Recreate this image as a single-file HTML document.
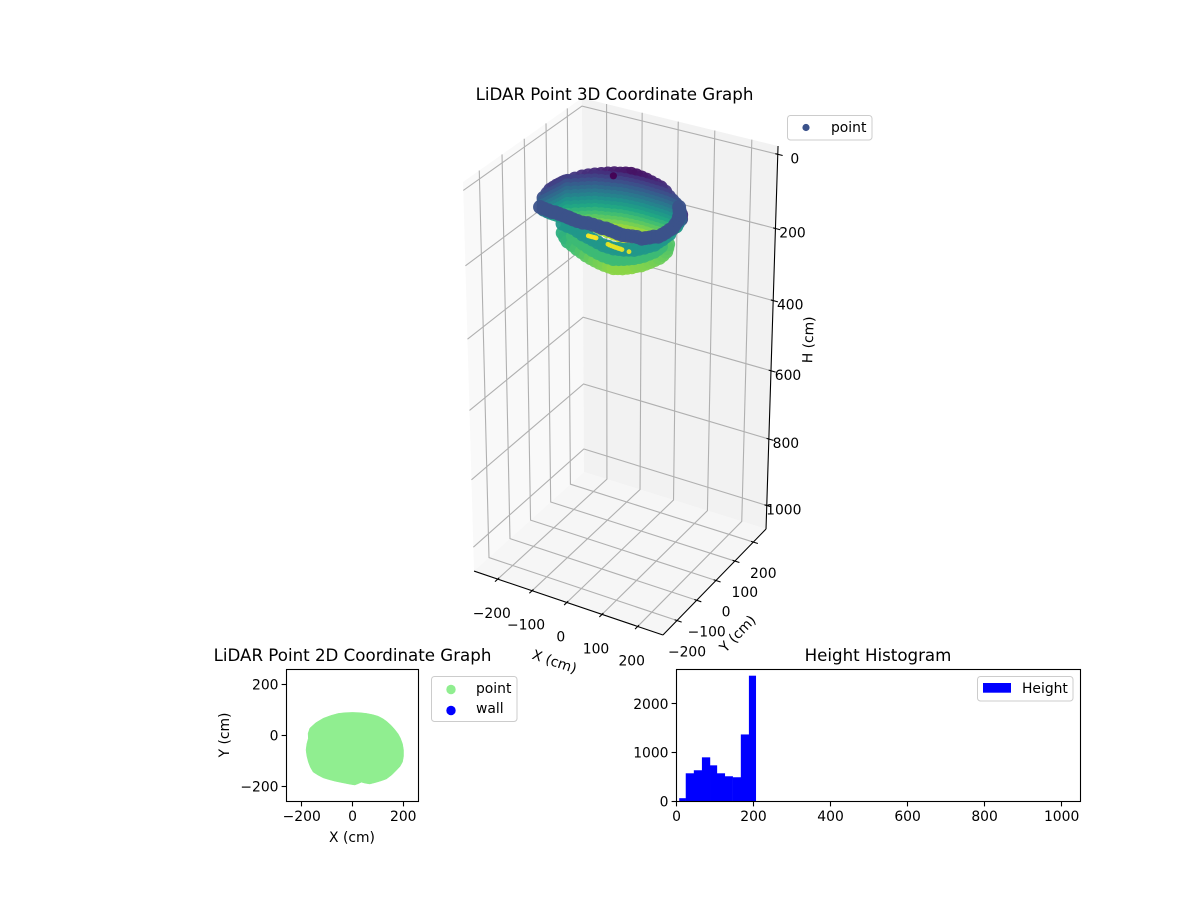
<!DOCTYPE html>
<html>
<head>
<meta charset="utf-8">
<title>LiDAR charts</title>
<style>
html,body{margin:0;padding:0;background:#fff;}
svg{display:block;}
text{font-family:"DejaVu Sans","Liberation Sans",sans-serif;font-size:13.89px;fill:#000;}
.title{font-size:16.67px;text-anchor:middle;}
.mid{text-anchor:middle;}
.end{text-anchor:end;}
</style>
</head>
<body>
<svg id="fig" width="1200" height="900" viewBox="0 0 1200 900" xmlns="http://www.w3.org/2000/svg">
  <rect x="0" y="0" width="1200" height="900" fill="#ffffff"/>

  <g id="plot3d"></g>
  <text class="title" x="614.5" y="100">LiDAR Point 3D Coordinate Graph</text>
  <text class="mid" transform="translate(553,666) rotate(19)">X (cm)</text>
  <text class="mid" transform="translate(741,637) rotate(-46)">Y (cm)</text>
  <text class="mid" transform="translate(813,340) rotate(-88)">H (cm)</text>
  <g>
    <rect x="787.5" y="115.5" width="84.5" height="24.5" rx="3" fill="#fff" fill-opacity="0.8" stroke="#cccccc" stroke-width="1"/>
    <circle cx="806" cy="127.5" r="3.6" fill="#3b528b"/>
    <text x="831" y="132">point</text>
  </g>

  <g id="plot2d"></g>
  <text class="title" x="352.5" y="661">LiDAR Point 2D Coordinate Graph</text>
  <text class="mid" x="352" y="842">X (cm)</text>
  <text class="mid" transform="translate(229,735) rotate(-90)">Y (cm)</text>
  <g>
    <rect x="431.5" y="676.5" width="85.5" height="45" rx="3" fill="#fff" fill-opacity="0.8" stroke="#cccccc" stroke-width="1"/>
    <circle cx="451" cy="689.5" r="4.7" fill="#90ee90"/>
    <text x="476" y="693">point</text>
    <circle cx="451" cy="710.5" r="4.7" fill="#0000ff"/>
    <text x="476" y="713">wall</text>
  </g>

  <g id="plothist"></g>
  <text class="title" x="878" y="661">Height Histogram</text>
  <g>
    <rect x="977.5" y="676.5" width="95.5" height="24.5" rx="3" fill="#fff" fill-opacity="0.8" stroke="#cccccc" stroke-width="1"/>
    <rect x="983" y="683" width="28" height="9.7" fill="#0000ff"/>
    <text x="1022" y="693">Height</text>
  </g>
</svg>

<script>
// ---------- chart data ----------
const ticks3dX = [-200, -100, 0, 100, 200];
const ticks3dY = [-200, -100, 0, 100, 200];
const ticks3dH = [0, 200, 400, 600, 800, 1000];

// back wall of the scan: one column per outline position
const bowlX = [-183,-180,-178,-176,-174,-172,-170,-169,-168,-154,-140,-128,-115,-100,-85,-70,-56,-42,-28,-14,0,14,28,42,55,68,80,91,101,108,115,128,142,153,164];
const bowlY = [-57,-45,-34,-22,-11,0,10,20,29,40,50,59,68,73,78,83,87,89,90,91,91,90,89,88,87,85,82,79,76,66,56,40,23,6,-11];
const bowlTop = [90,83,77,76,75,75,75,76,78,73,68,66,64,61,58,56,55,52,50,51,53,55,58,61,64,71,80,86,91,89,88,84,80,73,66];
const bowlBottom = [122,131,139,147,154,161,168,175,182,189,195,200,204,210,215,220,224,225,226,224,221,216,210,202,193,184,174,164,153,146,139,120,101,89,77];
const bowlLevels = [70,80,90,100,110,120,130,140,150,160,170,180,190,200,210,220];

// lower front wall (outer edge first, upper rows last)
const lowerX = [-126,-112,-98,-84,-70,-56,-42,-29,-17,-5,8,19,30,39,49,57,65,73,82,88,94,100,107,109,110,105,100,
  -106,-86,-66,-47,-29,-11,6,21,35,46,56,65,74,82,89,94,99,100,100,
  -131,-115,-99,-80,-61,-44,-27,-10,8,22,37,49,61,71,82,89,97,103,110,111,113,113,114];
const lowerY = [-65,-77,-89,-91,-94,-96,-99,-99,-99,-99,-99,-96,-94,-89,-84,-76,-68,-61,-54,-43,-32,-21,-11,3,17,31,44,
  -51,-61,-72,-81,-89,-95,-100,-102,-103,-97,-91,-83,-75,-64,-53,-38,-23,-7,9,
  -57,-61,-64,-72,-81,-86,-92,-98,-104,-105,-106,-102,-99,-93,-88,-77,-66,-53,-41,-24,-8,8,24];
const lowerH = [166,169,171,176,181,185,189,193,196,199,201,204,206,206,206,206,206,204,203,202,201,199,196,194,191,189,186,
  176,176,176,176,176,176,176,176,176,176,176,176,176,176,176,176,176,176,176,
  146,146,146,146,146,146,146,146,146,146,146,146,146,146,146,146,146,146,146,146,146,146,146];

// floor returns showing through the gap
const floorX = [-137,-131,-126,-120,-115,-68,-62,-56,-50,-45,-40,-35,-30,-25,-5];
const floorY = [73,73,73,73,73,49,47,46,45,44,44,43,43,42,41];
const floorH = [239,239,239,239,239,233,233,233,233,233,233,233,233,233,233];

// front rim
const rimX = [-166,-154,-141,-128,-121,-109,-96,-83,-78,-66,-53,-38,-27,-12,3,15,24,36,49,61,74,85,96,107,121,127,134,140,149,152,154,155,157,153,149,142,137,127,117];
const rimY = [-101,-104,-106,-109,-107,-109,-111,-113,-114,-117,-119,-120,-116,-117,-118,-121,-118,-121,-123,-126,-128,-125,-122,-119,-121,-114,-107,-98,-93,-79,-65,-49,-38,-19,1,19,32,49,65];
const rimH = [91,91,91,91,91,91,91,91,91,91,91,91,91,91,91,91,91,91,91,91,91,91,91,91,91,91,91,91,91,91,91,91,91,91,91,91,91,91,91];

// single stray ceiling return
const strayX = [-50];
const strayY = [44];
const strayH = [41];

const ticks2dX = [-200, 0, 200];
const ticks2dY = [-200, 0, 200];
const outlineX = [0,28,55,80,101,120,134,152,167,180,189,197,201,201,197,187,173,155,134,115,95,80,68,50,35,22,9,-10,-30,-50,-69,-92,-115,-136,-155,-166,-174,-180,-183,-180,-174,-175,-168,-145,-115,-85,-56,-28];
const outlineY = [91,90,87,82,76,66,56,40,23,6,-11,-33,-57,-82,-104,-122,-137,-155,-171,-178,-184,-188,-191,-188,-184,-190,-195,-192,-188,-184,-180,-174,-167,-156,-144,-125,-104,-80,-57,-33,-11,8,29,50,68,79,87,90];

const histEdges = [7,24,45,66,87,105,125.5,146,167,188,206];
const histCounts = [68,578,640,905,741,578,517,497,1374,2578];
const histTicksX = [0,200,400,600,800,1000];
const histTicksY = [0,1000,2000];

// ---------- helpers ----------
const NS = 'http://www.w3.org/2000/svg';
function mk(parent, tag, props, label) {
  const n = document.createElementNS(NS, tag);
  for (const k in props) n.setAttribute(k, props[k]);
  if (label !== undefined) n.textContent = label;
  parent.appendChild(n);
  return n;
}
function fmt(v) { return v < 0 ? '\u2212' + Math.abs(v) : String(v); }
function snap(v) { return Math.round(v - 0.5) + 0.5; }

// ---------- 3D axes: fit a projective camera to the visible box corners ----------
const xLim = [-270, 270], yLim = [-270, 270], hLim = [-22, 1072];
const boxCube = [[0,0,0],[1,1,0],[0,1,0],[0,0,1],[1,0,1],[1,1,1],[0,1,1]];
const boxPix = [[463,182],[778,146],[582,98],[474,571],[663,635],[766,529],[584,472]];
function solveCamera() {
  const rows = [], rhs = [];
  boxCube.forEach((c, i) => {
    const U = boxPix[i][0] / 1000, V = boxPix[i][1] / 1000;
    rows.push([c[0],c[1],c[2],1,0,0,0,0,-U*c[0],-U*c[1],-U*c[2]]); rhs.push(U);
    rows.push([0,0,0,0,c[0],c[1],c[2],1,-V*c[0],-V*c[1],-V*c[2]]); rhs.push(V);
  });
  const n = 11, M = [];
  for (let i = 0; i < n; i++) {
    M.push(new Array(n + 1).fill(0));
    for (let j = 0; j < n; j++) for (let r = 0; r < rows.length; r++) M[i][j] += rows[r][i] * rows[r][j];
    for (let r = 0; r < rows.length; r++) M[i][n] += rows[r][i] * rhs[r];
  }
  for (let i = 0; i < n; i++) {
    let p = i;
    for (let r = i + 1; r < n; r++) if (Math.abs(M[r][i]) > Math.abs(M[p][i])) p = r;
    const t = M[i]; M[i] = M[p]; M[p] = t;
    for (let r = 0; r < n; r++) {
      if (r === i) continue;
      const f = M[r][i] / M[i][i];
      for (let c = i; c <= n; c++) M[r][c] -= f * M[i][c];
    }
  }
  return M.map((row, i) => row[n] / row[i]);
}
const cam = solveCamera();
function projUnit(u, v, w) {
  const d = cam[8]*u + cam[9]*v + cam[10]*w + 1;
  return [1000*(cam[0]*u + cam[1]*v + cam[2]*w + cam[3]) / d,
          1000*(cam[4]*u + cam[5]*v + cam[6]*w + cam[7]) / d];
}
function uOf(x) { return (x - xLim[0]) / (xLim[1] - xLim[0]); }
function vOf(y) { return (y - yLim[0]) / (yLim[1] - yLim[0]); }
function wOf(h) { return (h - hLim[0]) / (hLim[1] - hLim[0]); }
function proj(x, y, h) { return projUnit(uOf(x), vOf(y), wOf(h)); }
function pts(list) { return list.map(p => p[0].toFixed(2) + ',' + p[1].toFixed(2)).join(' '); }

const viridisStops = ['#440154','#482475','#414487','#355f8d','#2a788e','#21918c','#22a884','#44bf70','#7ad151','#bddf26','#fde725'];
function hex(c) { return [1,3,5].map(i => parseInt(c.substr(i,2),16)); }
function viridis(t) {
  t = Math.max(0, Math.min(1, t)) * 10;
  const i = Math.min(9, Math.floor(t)), f = t - i, a = hex(viridisStops[i]), b = hex(viridisStops[i+1]);
  return 'rgb(' + a.map((v,k) => Math.round(v + (b[k]-v)*f)).join(',') + ')';
}
const colorMin = 41, colorMax = 241;
function colorOf(h) { return viridis((h - colorMin) / (colorMax - colorMin)); }

// ---------- draw 3D ----------
(function () {
  const g = document.getElementById('plot3d');
  let el;
  el = mk(g, 'polygon', {points: pts([[0,0,0],[0,1,0],[0,1,1],[0,0,1]].map(c => projUnit(c[0],c[1],c[2]))), fill:'#f9f9f9'});
  
  
  el = mk(g, 'polygon', {points: pts([[0,1,0],[1,1,0],[1,1,1],[0,1,1]].map(c => projUnit(c[0],c[1],c[2]))), fill:'#f2f2f2'});
  
  
  el = mk(g, 'polygon', {points: pts([[0,0,1],[1,0,1],[1,1,1],[0,1,1]].map(c => projUnit(c[0],c[1],c[2]))), fill:'#f6f6f6'});
  
  

  const gridStyle = {fill:'none', stroke:'#b0b0b0', 'stroke-width':1.1};
  ticks3dX.forEach(t => {
    const u = uOf(t);
    el = mk(g, 'polyline', Object.assign({points: pts([projUnit(u,0,1),projUnit(u,1,1),projUnit(u,1,0)])}, gridStyle));
    
    
  });
  ticks3dY.forEach(t => {
    const v = vOf(t);
    el = mk(g, 'polyline', Object.assign({points: pts([projUnit(1,v,1),projUnit(0,v,1),projUnit(0,v,0)])}, gridStyle));
    
    
  });
  ticks3dH.forEach(t => {
    const w = wOf(t);
    el = mk(g, 'polyline', Object.assign({points: pts([projUnit(0,0,w),projUnit(0,1,w),projUnit(1,1,w)])}, gridStyle));
    
    
  });

  const axisStyle = {fill:'none', stroke:'#000', 'stroke-width':1.1};
  el = mk(g, 'polyline', Object.assign({points: pts([projUnit(0,0,1),projUnit(1,0,1)])}, axisStyle));
  
  
  el = mk(g, 'polyline', Object.assign({points: pts([projUnit(1,0,1),projUnit(1,1,1)])}, axisStyle));
  
  
  el = mk(g, 'polyline', Object.assign({points: pts([projUnit(1,1,1),projUnit(1,1,0)])}, axisStyle));
  
  

  ticks3dX.forEach(t => {
    const u = uOf(t);
    el = mk(g, 'polyline', Object.assign({points: pts([projUnit(u,0.012,1),projUnit(u,-0.024,1)])}, axisStyle));
    
    
    const p = projUnit(u,0,1);
    el = mk(g, 'text', {class:'mid', x:(p[0]-6).toFixed(1), y:(p[1]+39).toFixed(1)}, fmt(t));
    
    
  });
  ticks3dY.forEach(t => {
    const v = vOf(t);
    el = mk(g, 'polyline', Object.assign({points: pts([projUnit(0.988,v,1),projUnit(1.024,v,1)])}, axisStyle));
    
    
    const p = projUnit(1,v,1);
    el = mk(g, 'text', {class:'mid', x:(p[0]+10).toFixed(1), y:(p[1]+36).toFixed(1)}, fmt(t));
    
    
  });
  ticks3dH.forEach(t => {
    const w = wOf(t);
    el = mk(g, 'polyline', Object.assign({points: pts([projUnit(0.988,1,w),projUnit(1.024,1,w)])}, axisStyle));
    
    
    const p = projUnit(1,1,w);
    el = mk(g, 'text', {class:'mid', x:(p[0]+17).toFixed(1), y:(p[1]+9).toFixed(1)}, fmt(t));
    
    
  });

  // scatter
  const cloud = mk(g, 'g', {});
  
  
  function dot(x, y, h, r) {
    const p = proj(x, y, h);
    const c = mk(cloud, 'circle', {cx:p[0].toFixed(2), cy:p[1].toFixed(2), r:r, fill:colorOf(h), 'fill-opacity':0.95});
    
    
  }
  const bowl = [];
  bowlX.forEach((x, i) => {
    bowl.push([x, bowlY[i], bowlTop[i]]);
    bowlLevels.forEach(l => { if (l > bowlTop[i] + 4 && l < bowlBottom[i]) bowl.push([x, bowlY[i], l]); });
    bowl.push([x, bowlY[i], bowlBottom[i]]);
  });
  bowl.sort((a, b) => a[2] - b[2]);
  bowl.forEach(p => dot(p[0], p[1], p[2], 7));
  strayX.forEach((x, i) => dot(x, strayY[i], strayH[i], 3.6));
  lowerX.forEach((x, i) => dot(x, lowerY[i], lowerH[i], 7));
  floorX.forEach((x, i) => dot(x, floorY[i], floorH[i], 2.4));
  rimX.forEach((x, i) => dot(x, rimY[i], rimH[i], 7));
})();

// ---------- draw 2D ----------
(function () {
  const g = document.getElementById('plot2d');
  const L = 286.5, R = 418.5, T = 669.5, B = 801.5;
  const lim = [-260, 260];
  const sx = v => L + (v - lim[0]) / (lim[1] - lim[0]) * (R - L);
  const sy = v => B - (v - lim[0]) / (lim[1] - lim[0]) * (B - T);
  let el;
  el = mk(g, 'polygon', {points: outlineX.map((x, i) => sx(x).toFixed(2) + ',' + sy(outlineY[i]).toFixed(2)).join(' '), fill:'#90ee90', stroke:'#90ee90', 'stroke-width':0.5});
  
  
  el = mk(g, 'rect', {x:L, y:T, width:R-L, height:B-T, fill:'none', stroke:'#000', 'stroke-width':1.1});
  
  
  ticks2dX.forEach(t => {
    el = mk(g, 'line', {x1:snap(sx(t)), x2:snap(sx(t)), y1:B, y2:B+4.9, stroke:'#000', 'stroke-width':1.1});
    
    
    el = mk(g, 'text', {class:'mid', x:sx(t), y:B+19.5}, fmt(t));
    
    
  });
  ticks2dY.forEach(t => {
    el = mk(g, 'line', {x1:L-4.9, x2:L, y1:snap(sy(t)), y2:snap(sy(t)), stroke:'#000', 'stroke-width':1.1});
    
    
    el = mk(g, 'text', {class:'end', x:L-8, y:sy(t)+5}, fmt(t));
    
    
  });
})();

// ---------- draw histogram ----------
(function () {
  const g = document.getElementById('plothist');
  const L = 676.5, R = 1080.5, T = 669.5, B = 801.5;
  const xMax = 1049, yMax = 2705;
  const sx = v => L + v / xMax * (R - L);
  const sy = v => B - v / yMax * (B - T);
  let el;
  histCounts.forEach((c, i) => {
    el = mk(g, 'rect', {x:sx(histEdges[i]).toFixed(2), y:sy(c).toFixed(2), width:(sx(histEdges[i+1])-sx(histEdges[i])+0.2).toFixed(2), height:(B-sy(c)).toFixed(2), fill:'#0000ff'});
    
    
  });
  el = mk(g, 'rect', {x:L, y:T, width:R-L, height:B-T, fill:'none', stroke:'#000', 'stroke-width':1.1});
  
  
  histTicksX.forEach(t => {
    el = mk(g, 'line', {x1:snap(sx(t)), x2:snap(sx(t)), y1:B, y2:B+4.9, stroke:'#000', 'stroke-width':1.1});
    
    
    el = mk(g, 'text', {class:'mid', x:sx(t), y:B+19.5}, fmt(t));
    
    
  });
  histTicksY.forEach(t => {
    el = mk(g, 'line', {x1:L-4.9, x2:L, y1:snap(sy(t)), y2:snap(sy(t)), stroke:'#000', 'stroke-width':1.1});
    
    
    el = mk(g, 'text', {class:'end', x:L-8, y:sy(t)+5}, fmt(t));
    
    
  });
})();
</script>
</body>
</html>
